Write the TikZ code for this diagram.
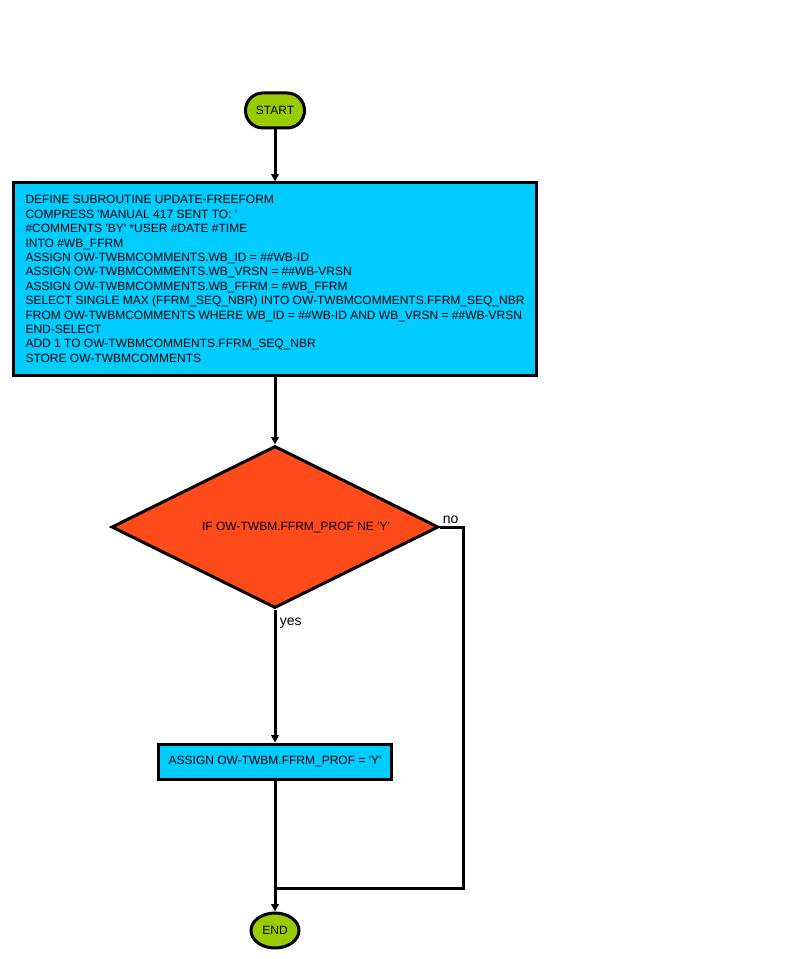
\documentclass[tikz,border=0pt]{standalone}
\usepackage{fontspec}
\setmainfont{Liberation Sans}
\usetikzlibrary{shapes.geometric,arrows.meta,positioning}
\definecolor{termgreen}{HTML}{99CC00}
\definecolor{procblue}{HTML}{00CCFF}
\definecolor{decred}{HTML}{FF4A1A}
\newcommand\sq{\textquotesingle}

\begin{document}
\begin{tikzpicture}[x=0.75pt, y=-0.75pt,
    every node/.style={font=\fontsize{9}{10.8}\selectfont},
    terminal/.style={draw, line width=2.25pt, fill=termgreen, rounded corners=13pt,
      minimum width=44.25pt, minimum height=26.25pt, inner sep=0pt},
    endterm/.style={draw, line width=2.25pt, fill=termgreen, ellipse,
      minimum width=36pt, minimum height=26.25pt, inner sep=0pt},
    process/.style={draw, line width=2.25pt, fill=procblue, rectangle, inner sep=0pt},
    decision/.style={draw, line width=2.25pt, fill=decred, diamond, inner sep=0pt,
      minimum width=245.25pt, minimum height=121.5pt},
    flow/.style={line width=2.25pt, -{Triangle[length=5.5pt,width=5.5pt]}},
    wire/.style={line width=2.25pt},
    lbl/.style={inner sep=2pt, font=\fontsize{10.5}{12}\selectfont}]
  \useasboundingbox (0,0) rectangle (800,959);
  \node[terminal] (start) at (275,110.5) {START};
  \node[process, minimum width=392.25pt, minimum height=144pt, align=left] (define) at (275,279) {DEFINE SUBROUTINE UPDATE-FREEFORM\\
COMPRESS \sq MANUAL 417 SENT TO: \sq\\
\#COMMENTS \sq BY\sq{} *USER \#DATE \#TIME\\
INTO \#WB\_FFRM\\
ASSIGN OW-TWBMCOMMENTS.WB\_ID = \#\#WB-ID\\
ASSIGN OW-TWBMCOMMENTS.WB\_VRSN = \#\#WB-VRSN\\
ASSIGN OW-TWBMCOMMENTS.WB\_FFRM = \#WB\_FFRM\\
SELECT SINGLE MAX (FFRM\_SEQ\_NBR) INTO OW-TWBMCOMMENTS.FFRM\_SEQ\_NBR\\
FROM OW-TWBMCOMMENTS WHERE WB\_ID = \#\#WB-ID AND WB\_VRSN = \#\#WB-VRSN\\
END-SELECT\\
ADD 1 TO OW-TWBMCOMMENTS.FFRM\_SEQ\_NBR\\
STORE OW-TWBMCOMMENTS};
  \node[decision, label={[xshift=15.75pt]center:IF OW-TWBM.FFRM\_PROF NE \sq Y\sq}] (cond) at (275,527) {};
  \node[process, minimum width=174.75pt, minimum height=26.25pt] (assign) at (275,761.5) {ASSIGN OW-TWBM.FFRM\_PROF = \sq Y\sq};
  \node[endterm] (finish) at (275,930.5) {END};
  \coordinate (join) at (275,888);
  \node[lbl, anchor=south west] (nolbl) at (cond.east) {no};
  \node[lbl, anchor=north west, xshift=1.5pt, yshift=-4.5pt] (yeslbl) at (cond.south) {yes};
  \draw[flow] (start) -- (define);
  \draw[flow] (define) -- (cond);
  \draw[flow] (cond) -- (assign);
  \draw[wire] (cond.east) -- ++(23,0) |- (join);
  \draw[flow] (assign) -- (finish);
\end{tikzpicture}
\end{document}
